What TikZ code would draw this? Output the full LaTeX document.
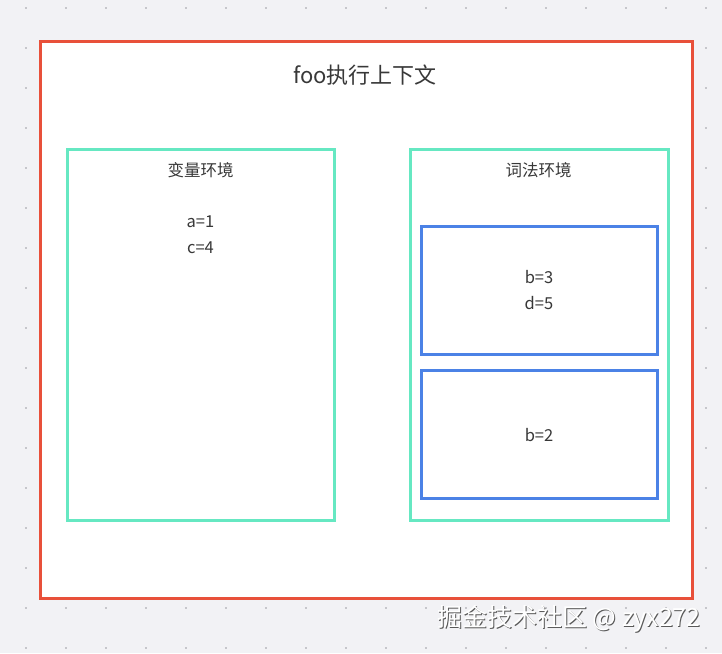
\documentclass[tikz,border=0pt]{standalone}
\usepackage{fontspec}
\setmainfont{Noto Sans CJK SC}
\usetikzlibrary{positioning}
\definecolor{bgcol}{HTML}{F2F2F5}
\definecolor{dotcol}{HTML}{C6C6CB}
\definecolor{ctxred}{HTML}{E8503A}
\definecolor{envgreen}{HTML}{66E8C2}
\definecolor{scopeblue}{HTML}{4B82E6}
\definecolor{txtcol}{HTML}{383838}

\begin{document}
\begin{tikzpicture}[x=1pt,y=-1pt,
    ctxbox/.style={draw=ctxred, line width=3pt, fill=white, inner sep=0pt},
    envbox/.style={draw=envgreen, line width=3pt, inner sep=0pt},
    scopebox/.style={draw=scopeblue, line width=3pt, inner sep=0pt},
    lbl/.style={text=txtcol, font=\fontsize{16.5}{26}\selectfont, align=center, inner sep=0pt},
    wmark/.style={font=\fontsize{25}{26}\selectfont, inner sep=0pt}]
    \fill[bgcol] (0,0) rectangle (722,653);
    \useasboundingbox (0,0) rectangle (722,653);
    % grid of dots
    \foreach \x in {26,66,...,706}
      \foreach \y in {8,48,...,648}
        \fill[dotcol] (\x-1.4,\y-1.4) rectangle (\x+1.4,\y+1.4);

    \node[ctxbox, minimum width=652, minimum height=557] (ctx) at (366,319.5) {};
    \node[lbl, font=\fontsize{22}{26}\selectfont] (ctxtitle) at (365,75) {foo执行上下文};

    \node[envbox, minimum width=267, minimum height=371] (varenv) at (200.5,334.5) {};
    \node[lbl] (vartitle) at (200.5,170) {变量环境};
    \node[lbl] (varvals) at (200.5,235) {a=1\\c=4};

    \node[envbox, minimum width=258, minimum height=371] (lexenv) at (539,334.5) {};
    \node[lbl] (lextitle) at (538.5,170) {词法环境};

    \node[scopebox, minimum width=236, minimum height=128] (blockscope) at (539,290) {};
    \node[lbl] (blockvals) at (539,290.5) {b=3\\d=5};
    \node[scopebox, minimum width=236, minimum height=128] (fnscope) at (539,434.5) {};
    \node[lbl] (fnvals) at (539,435) {b=2};

    % watermark
    \node[wmark, text=black!65] (wmshadow) at (570,619.5) {掘金技术社区 @ zyx272};
    \node[wmark, text=white] (wm) at (569,618.5) {掘金技术社区 @ zyx272};
\end{tikzpicture}
\end{document}
